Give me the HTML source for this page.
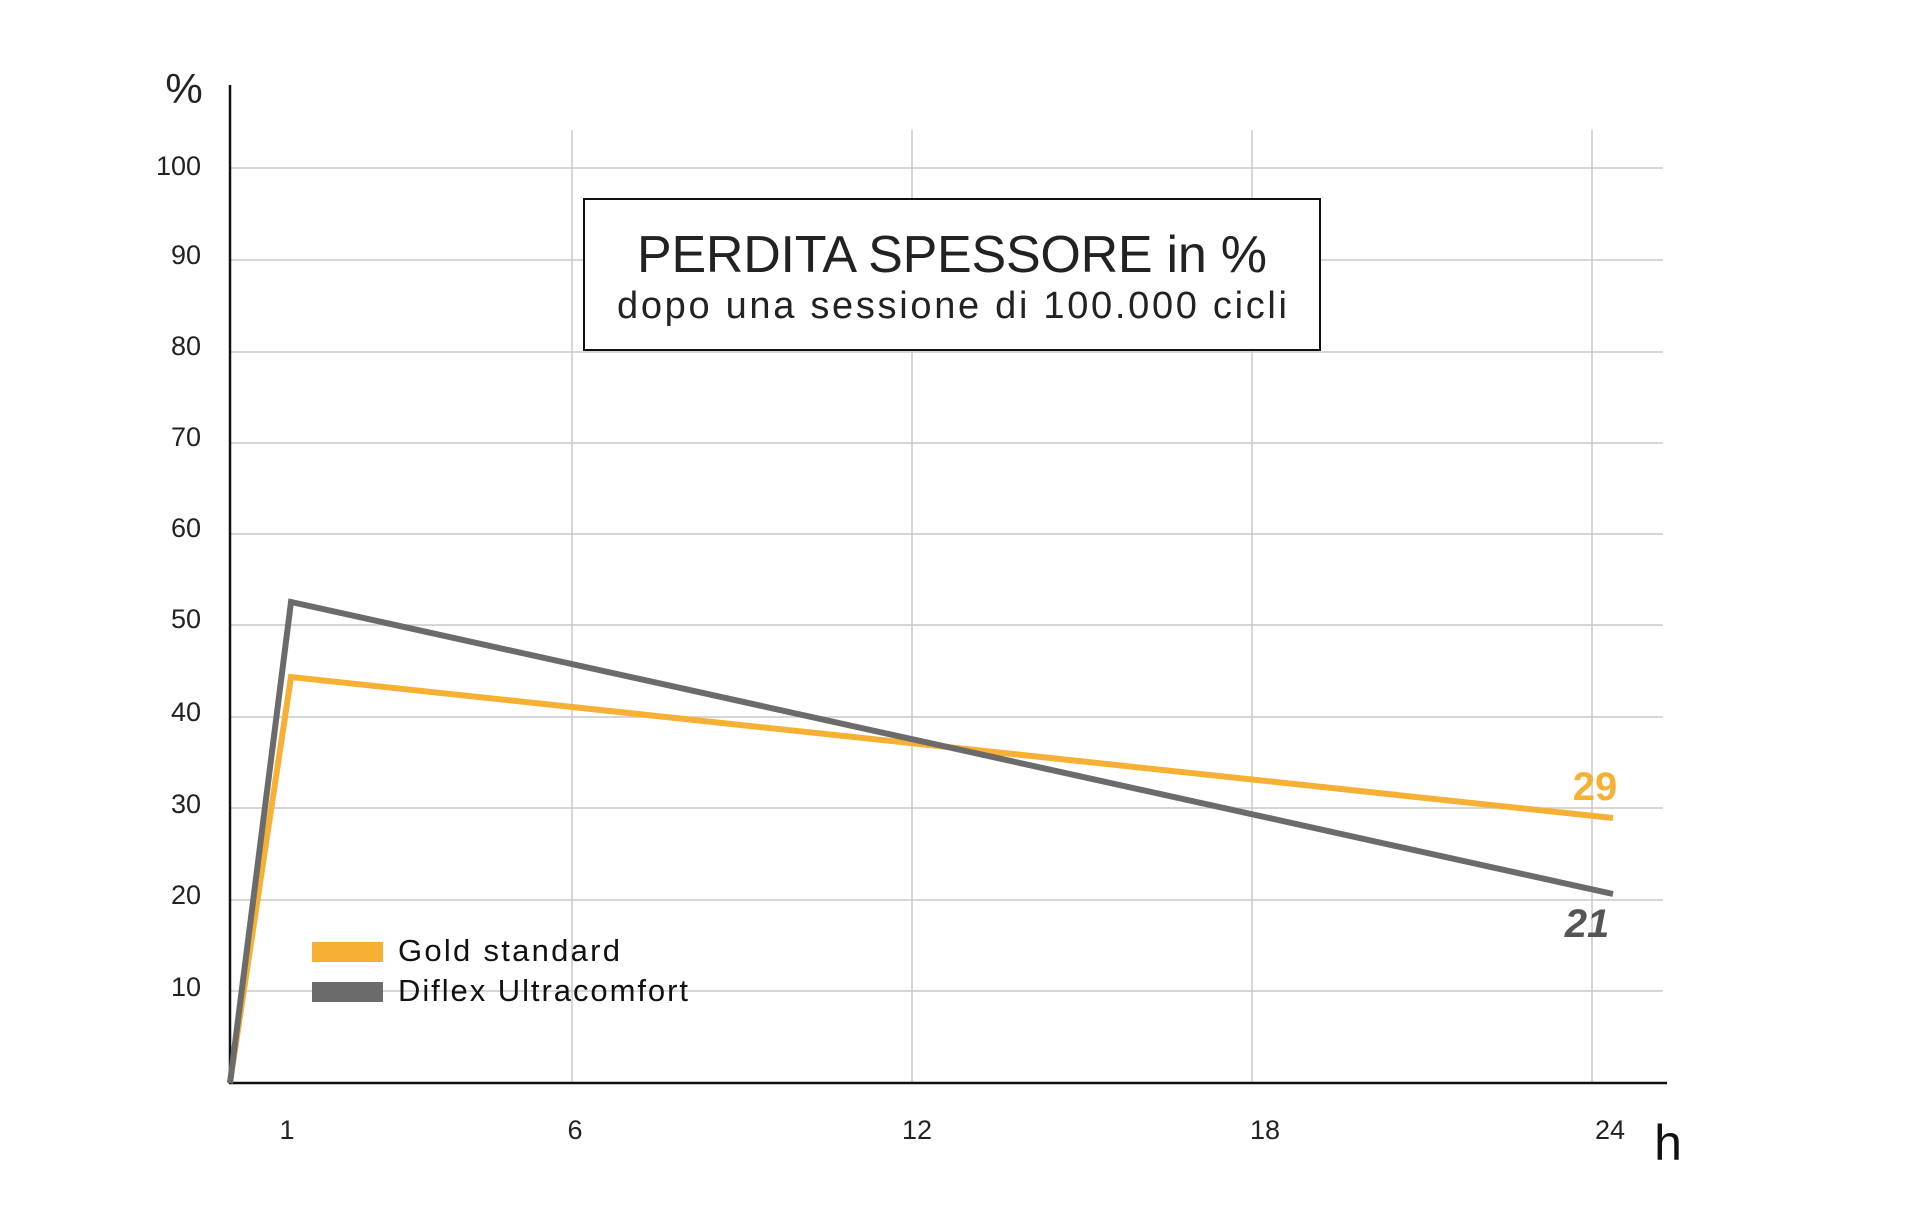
<!DOCTYPE html>
<html><head><meta charset="utf-8"><style>html,body{margin:0;padding:0;background:#fff}svg{display:block}</style></head>
<body>
<svg width="1920" height="1220" viewBox="0 0 1920 1220" xmlns="http://www.w3.org/2000/svg" font-family="Liberation Sans, sans-serif">
<rect width="1920" height="1220" fill="#fff"/>
<g stroke="#c8c8c8" stroke-width="1.5">
<line x1="230" y1="168" x2="1663" y2="168"/>
<line x1="230" y1="260" x2="1663" y2="260"/>
<line x1="230" y1="352" x2="1663" y2="352"/>
<line x1="230" y1="443" x2="1663" y2="443"/>
<line x1="230" y1="534" x2="1663" y2="534"/>
<line x1="230" y1="625" x2="1663" y2="625"/>
<line x1="230" y1="717" x2="1663" y2="717"/>
<line x1="230" y1="808" x2="1663" y2="808"/>
<line x1="230" y1="900" x2="1663" y2="900"/>
<line x1="230" y1="991" x2="1663" y2="991"/>
<line x1="572" y1="130" x2="572" y2="1083"/>
<line x1="912" y1="130" x2="912" y2="1083"/>
<line x1="1252" y1="130" x2="1252" y2="1083"/>
<line x1="1592" y1="130" x2="1592" y2="1083"/>
</g>
<line x1="230" y1="85" x2="230" y2="1084" stroke="#111" stroke-width="2.5"/>
<line x1="229" y1="1083" x2="1667" y2="1083" stroke="#111" stroke-width="2.5"/>
<rect x="584" y="199" width="736" height="151" fill="#fff" stroke="#111" stroke-width="2"/>
<text x="952" y="272" text-anchor="middle" font-size="52" fill="#222" textLength="630">PERDITA SPESSORE in %</text>
<text x="952" y="318" text-anchor="middle" font-size="38" fill="#222" textLength="670">dopo una sessione di 100.000 cicli</text>
<g font-size="27" fill="#222" text-anchor="end">
<text x="201" y="175">100</text><text x="201" y="264">90</text><text x="201" y="355">80</text>
<text x="201" y="446">70</text><text x="201" y="537">60</text><text x="201" y="628">50</text>
<text x="201" y="721">40</text><text x="201" y="813">30</text><text x="201" y="904">20</text>
<text x="201" y="996">10</text>
</g>
<text x="184" y="103" text-anchor="middle" font-size="42" fill="#222">%</text>
<g font-size="27" fill="#222" text-anchor="middle">
<text x="287" y="1139">1</text><text x="575" y="1139">6</text><text x="917" y="1139">12</text>
<text x="1265" y="1139">18</text><text x="1610" y="1139">24</text>
</g>
<text x="1668" y="1160" text-anchor="middle" font-size="50" fill="#111">h</text>
<polyline points="230,1083 291,677 1613,818" fill="none" stroke="#f6b134" stroke-width="6"/>
<polyline points="230,1083 291,602 1613,894" fill="none" stroke="#6b6b6b" stroke-width="6"/>
<text x="1595" y="800" text-anchor="middle" font-size="40" font-weight="bold" fill="#f6b134">29</text>
<text x="1587" y="937" text-anchor="middle" font-size="40" font-weight="bold" font-style="italic" fill="#555">21</text>
<rect x="312" y="942" width="71" height="20" fill="#f6b134"/>
<rect x="312" y="982" width="71" height="20" fill="#6b6b6b"/>
<text x="398" y="961" font-size="31" fill="#111" textLength="222">Gold standard</text>
<text x="398" y="1001" font-size="31" fill="#111" textLength="290">Diflex Ultracomfort</text>
</svg>
</body></html>
